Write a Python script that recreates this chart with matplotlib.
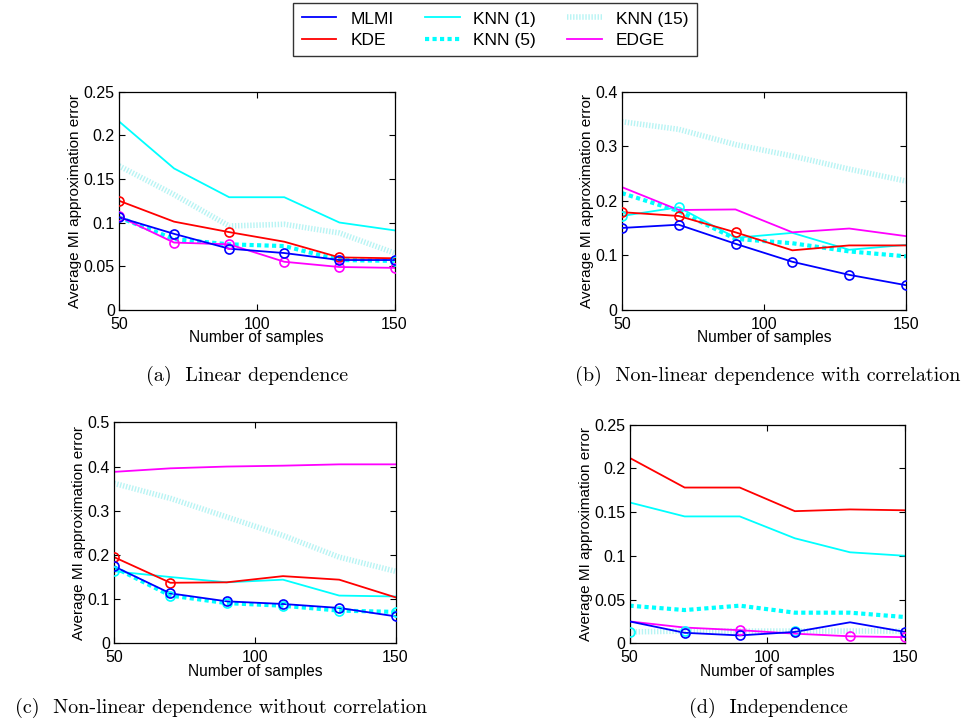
import matplotlib
matplotlib.use("Agg")
from matplotlib import pyplot as plt
from matplotlib.lines import Line2D

# sample sizes on the x axis
samples = [50, 70, 90, 110, 130, 150]

methods = ["MLMI", "KDE", "KNN (1)", "KNN (5)", "KNN (15)", "EDGE"]

# (a) Linear dependence
a_mlmi = [0.106, 0.087, 0.070, 0.065, 0.057, 0.057]
a_kde = [0.125, 0.101, 0.089, 0.078, 0.060, 0.059]
a_knn1 = [0.216, 0.162, 0.129, 0.129, 0.100, 0.091]
a_knn5 = [0.106, 0.081, 0.075, 0.073, 0.057, 0.056]
a_knn15 = [0.165, 0.132, 0.096, 0.098, 0.088, 0.065]
a_edge = [0.107, 0.077, 0.075, 0.055, 0.049, 0.048]

# (b) Non-linear dependence with correlation
b_mlmi = [0.150, 0.156, 0.121, 0.088, 0.064, 0.045]
b_kde = [0.179, 0.172, 0.142, 0.109, 0.118, 0.118]
b_knn1 = [0.172, 0.188, 0.132, 0.141, 0.110, 0.119]
b_knn5 = [0.214, 0.181, 0.130, 0.122, 0.107, 0.098]
b_knn15 = [0.345, 0.331, 0.303, 0.282, 0.258, 0.236]
b_edge = [0.225, 0.183, 0.184, 0.142, 0.149, 0.135]

# (c) Non-linear dependence without correlation
c_mlmi = [0.174, 0.113, 0.095, 0.089, 0.080, 0.061]
c_kde = [0.195, 0.137, 0.138, 0.152, 0.144, 0.104]
c_knn1 = [0.163, 0.150, 0.138, 0.144, 0.108, 0.106]
c_knn5 = [0.172, 0.108, 0.091, 0.085, 0.074, 0.071]
c_knn15 = [0.362, 0.328, 0.286, 0.244, 0.195, 0.163]
c_edge = [0.388, 0.396, 0.400, 0.402, 0.405, 0.405]

# (d) Independence
d_mlmi = [0.025, 0.012, 0.009, 0.013, 0.024, 0.013]
d_kde = [0.212, 0.178, 0.178, 0.151, 0.153, 0.152]
d_knn1 = [0.161, 0.145, 0.145, 0.120, 0.104, 0.100]
d_knn5 = [0.043, 0.038, 0.043, 0.035, 0.035, 0.030]
d_knn15 = [0.013, 0.014, 0.014, 0.014, 0.014, 0.014]
d_edge = [0.025, 0.018, 0.015, 0.011, 0.008, 0.007]

# which points carry a circle marker, per method
a_marks = [[0, 1, 2, 3, 4, 5], [0, 2, 4], [], [5], [], [0, 1, 2, 3, 4, 5]]
b_marks = [[0, 1, 2, 3, 4, 5], [0, 1, 2], [0, 1], [], [], []]
c_marks = [[0, 1, 2, 3, 4, 5], [0, 1], [0], [1, 2, 3, 4, 5], [], []]
d_marks = [[1, 2, 3, 5], [], [], [], [0, 1, 3], [2, 4, 5]]

captions = ["(a)  Linear dependence",
            "(b)  Non-linear dependence with correlation",
            "(c)  Non-linear dependence without correlation",
            "(d)  Independence"]
ylims = [0.25, 0.4, 0.5, 0.25]
ysteps = [0.05, 0.1, 0.1, 0.05]

panels = [
    [a_mlmi, a_kde, a_knn1, a_knn5, a_knn15, a_edge],
    [b_mlmi, b_kde, b_knn1, b_knn5, b_knn15, b_edge],
    [c_mlmi, c_kde, c_knn1, c_knn5, c_knn15, c_edge],
    [d_mlmi, d_kde, d_knn1, d_knn5, d_knn15, d_edge],
]
marks = [a_marks, b_marks, c_marks, d_marks]

styles = [
    dict(color="#0000ff", lw=1.3, ls="-"),
    dict(color="#ff0000", lw=1.3, ls="-"),
    dict(color="#00ffff", lw=1.3, ls="-"),
    dict(color="#00ffff", lw=3.0, dashes=(1.0, 0.8)),
    dict(color="#b8f4f4", lw=4.0, dashes=(0.25, 0.3)),
    dict(color="#ff00ff", lw=1.3, ls="-"),
]

plt.rcParams["font.family"] = ["Liberation Sans", "DejaVu Sans"]

fig = plt.figure(figsize=(9.67, 7.22), dpi=100)

boxes = [
    [0.123, 0.571, 0.285, 0.302],
    [0.643, 0.571, 0.294, 0.302],
    [0.118, 0.109, 0.291, 0.306],
    [0.651, 0.109, 0.285, 0.303],
]
caption_pos = [(0.2554, 0.479), (0.794, 0.479), (0.2285, 0.0194), (0.795, 0.0194)]

def fmt(v):
    s = ("%.2f" % v).rstrip("0").rstrip(".")
    return s

for i in range(4):
    ax = fig.add_axes(boxes[i])
    order = [4, 3, 2, 1, 5, 0]
    for k in order:
        st = dict(styles[k])
        ax.plot(samples, panels[i][k], zorder=2 + (k == 0), **st)
        idx = marks[i][k]
        if idx:
            ax.plot([samples[j] for j in idx], [panels[i][k][j] for j in idx],
                    ls="none", marker="o", ms=6.5, mfc="none", mew=1.2,
                    color=styles[k]["color"] if k != 4 else "#00ffff",
                    zorder=4)
    ax.set_xlim(50, 150)
    ax.set_ylim(0, ylims[i])
    ax.set_xticks([50, 100, 150])
    n = int(round(ylims[i] / ysteps[i]))
    yt = [ysteps[i] * t for t in range(n + 1)]
    ax.set_yticks(yt)
    ax.set_yticklabels([fmt(v) for v in yt])
    ax.tick_params(direction="in", top=True, right=True, labelsize=11.5,
                   length=4, width=0.8)
    ax.tick_params(axis="x", pad=5)
    ax.tick_params(axis="y", pad=3)
    ax.set_xlabel("Number of samples", fontsize=11.2, labelpad=-1)
    ax.set_ylabel("Average MI approximation error", fontsize=11.0, labelpad=1)
    for s in ax.spines.values():
        s.set_linewidth(0.9)
    fig.text(caption_pos[i][0], caption_pos[i][1], captions[i],
             family="cmr10", fontsize=14.5, ha="center", va="center")

handles = [Line2D([0], [0], **styles[k]) for k in range(6)]
leg = fig.legend(handles, methods, loc="center", bbox_to_anchor=(0.512, 0.959),
                 ncol=3, fontsize=12.5, frameon=True, fancybox=False,
                 edgecolor="black", handlelength=2.0, columnspacing=1.8,
                 handletextpad=0.8, labelspacing=0.35, borderpad=0.5)
leg.get_frame().set_linewidth(1.0)

plt.savefig("out.png", dpi=100)
